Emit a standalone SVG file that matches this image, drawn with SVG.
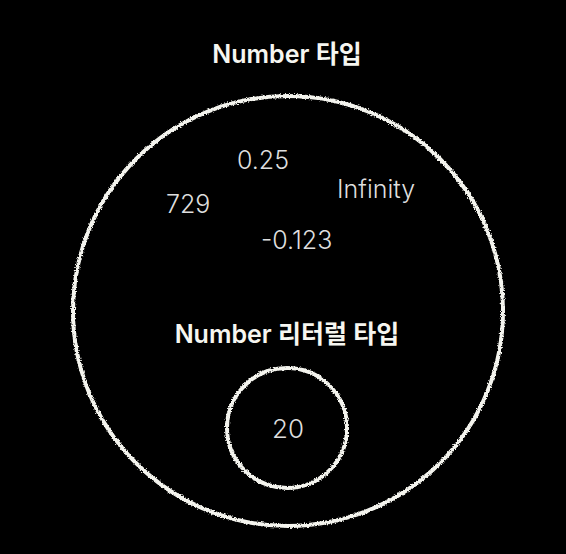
<svg xmlns="http://www.w3.org/2000/svg" width="566" height="554" viewBox="0 0 566 554">
  <style>
    .ring { fill: none; stroke: #f4f4ee; stroke-width: 4; }
    .title { font-family: Inter, "Noto Sans CJK KR", sans-serif; font-weight: 600; fill: #f6f6f0; font-size: 25px; }
    .val { font-family: Inter, "Noto Sans CJK KR", sans-serif; font-weight: 300; fill: #dedede; font-size: 25px; }
  </style>
  <defs>
    <filter id="rough" x="-10%" y="-10%" width="120%" height="120%">
      <feTurbulence type="fractalNoise" baseFrequency="0.7" numOctaves="2" seed="3" result="n"/>
      <feDisplacementMap in="SourceGraphic" in2="n" scale="3.5" xChannelSelector="R" yChannelSelector="G"/>
    </filter>
  </defs>
  <rect width="566" height="554" fill="#000"/>
  <g id="number-type">
    <circle class="ring" cx="288" cy="311" r="215" filter="url(#rough)"/>
    <text class="title" x="287" y="63" text-anchor="middle">Number 타입</text>
    <text class="val" x="237" y="169">0.25</text>
    <text class="val" x="166" y="213">729</text>
    <text class="val" x="337" y="198">Infinity</text>
    <text class="val" x="261" y="249">-0.123</text>
  </g>
  <g id="number-literal-type">
    <text class="title" x="287" y="343" text-anchor="middle">Number 리터럴 타입</text>
    <circle class="ring" cx="287" cy="428" r="60" filter="url(#rough)"/>
    <text class="val" x="288" y="438" text-anchor="middle" style="font-size:26px">20</text>
  </g>
  <g id="connectors"/>
</svg>
